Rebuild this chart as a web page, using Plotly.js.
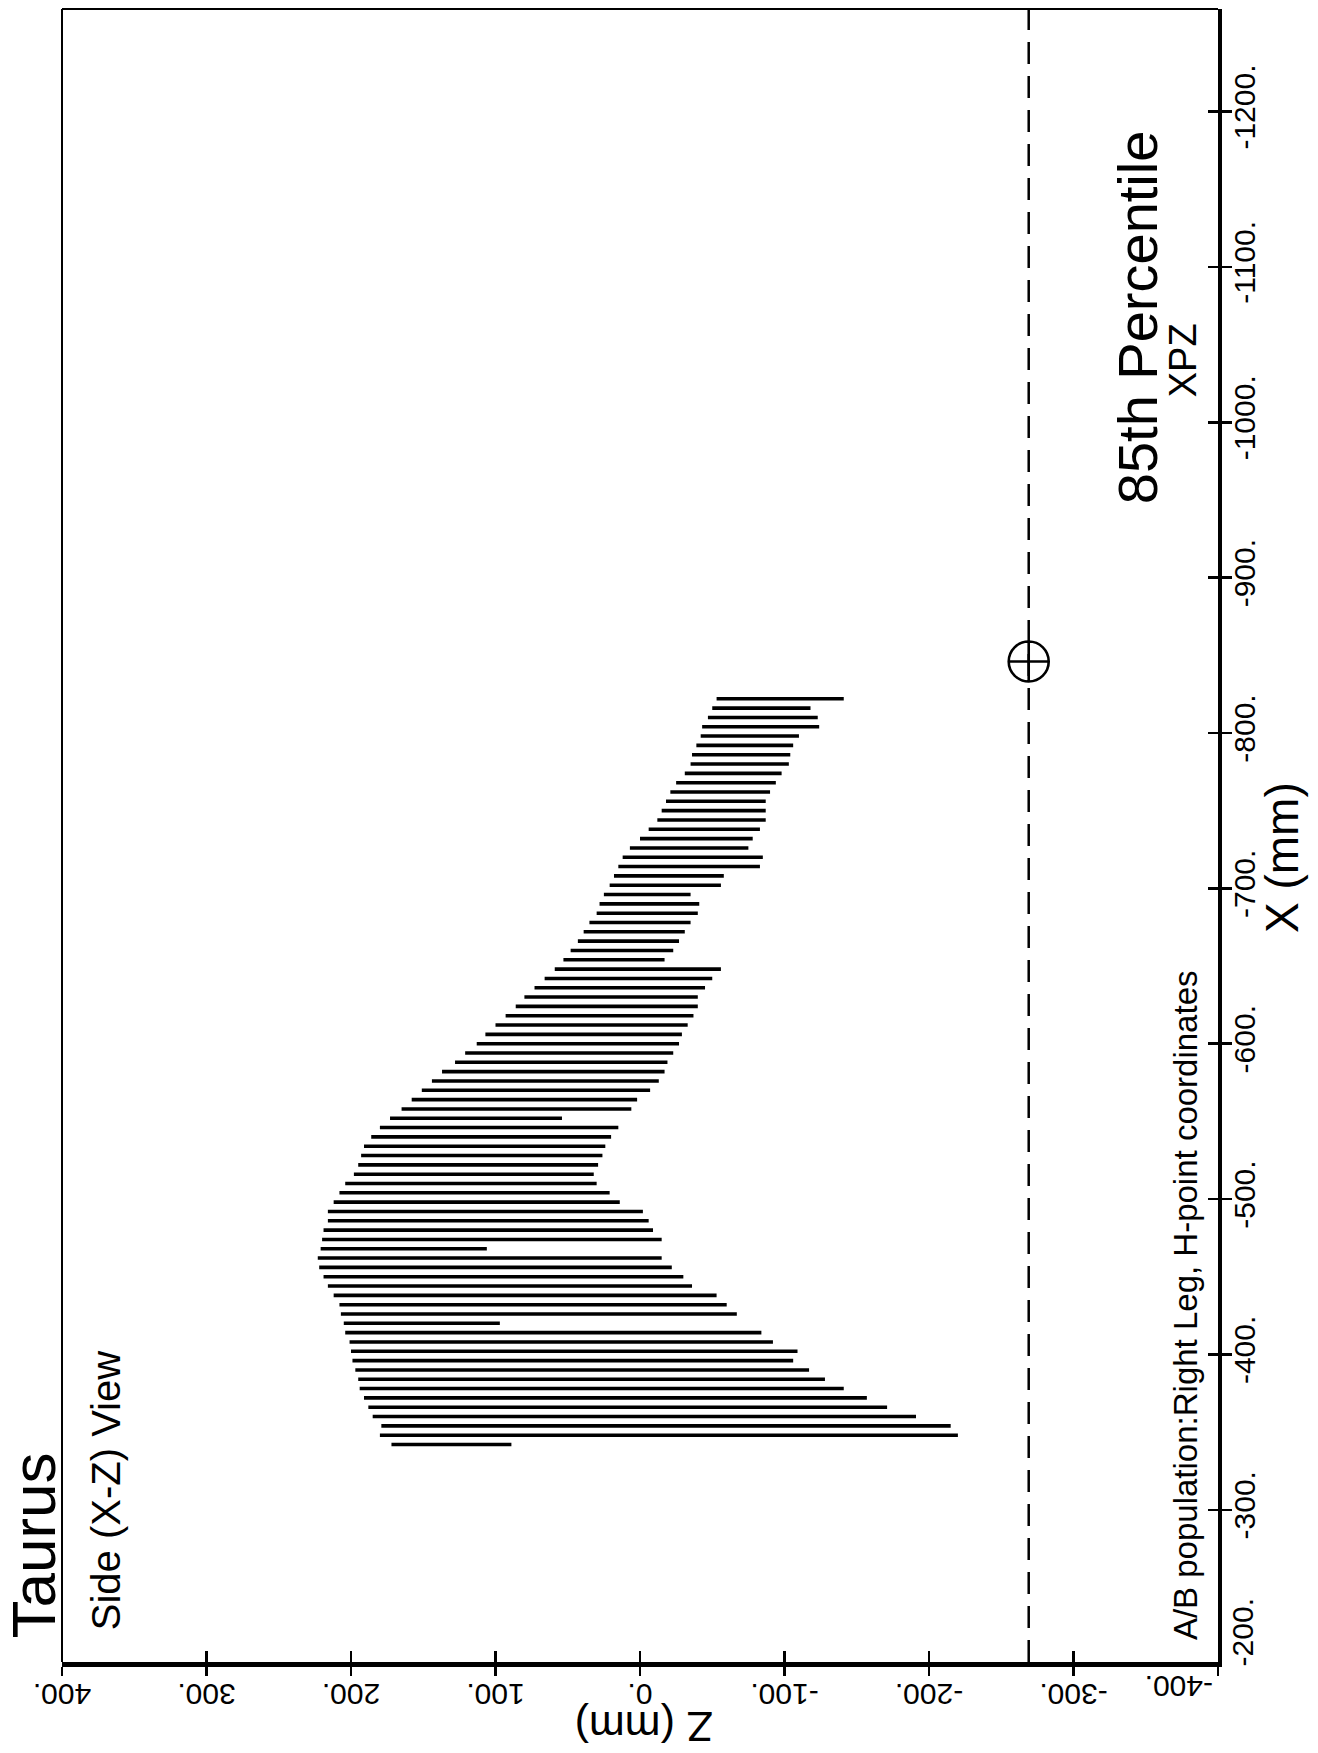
<!DOCTYPE html>
<html><head><meta charset="utf-8">
<script src="https://cdn.plot.ly/plotly-3.0.1.min.js"></script>
<style>html,body{margin:0;padding:0;background:#fff;} #chart{width:1318px;height:1753px;}</style>
</head><body><div id="chart"></div>
<script>
// X position (mm) of each swept segment
const xPositions = [-822,-816,-810,-804,-798,-792,-786,-780,-774,-768,-762,-756,-750,-744,-738,-732,-726,-720,-714,-708,
  -702,-696,-690,-684,-678,-672,-666,-660,-654,-648,-642,-636,-630,-624,-618,-612,-606,-600,-594,-588,
  -582,-576,-570,-564,-558,-552,-546,-540,-534,-528,-522,-516,-510,-504,-498,-492,-486,-480,-474,-468,
  -462,-456,-450,-444,-438,-432,-426,-420,-414,-408,-402,-396,-390,-384,-378,-372,-366,-360,-354,-348,-342];
// upper Z end of each segment (mm)
const zUpper = [-53,-50,-47,-43,-42,-39,-36,-35,-31,-25,-21,-18,-15,-12,-6,0,7,12,15,18,
  21,25,28,30,35,39,43,48,53,59,66,73,80,86,93,100,107,113,121,128,
  137,144,151,158,165,173,180,186,191,193,195,198,204,208,212,216,216,219,220,221,
  223,222,219,216,212,208,207,205,204,201,200,199,197,195,194,191,188,185,179,180,172];
// lower Z end of each segment (mm)
const zLower = [-141,-118,-123,-124,-110,-106,-104,-103,-98,-94,-90,-87,-87,-87,-83,-78,-75,-85,-83,-58,
  -56,-35,-41,-40,-35,-31,-27,-23,-17,-56,-50,-45,-40,-40,-37,-33,-29,-27,-23,-19,
  -17,-13,-7,2,6,54,15,20,24,26,29,32,30,21,14,-2,-6,-9,-15,106,
  -15,-22,-30,-36,-53,-60,-67,97,-84,-92,-109,-106,-117,-128,-141,-157,-171,-191,-215,-220,89];

const zTickVals = [400,300,200,100,0,-100,-200,-300,-400];
const zTickText = ['400.','300.','200.','100.','0.','-100.','-200.','-300.',''];
const xTickVals = [-200,-300,-400,-500,-600,-700,-800,-900,-1000,-1100,-1200];
const xTickText = ['','-300.','-400.','-500.','-600.','-700.','-800.','-900.','-1000.','-1100.','-1200.'];
const hPointZ = [-269];
const hPointX = [-846];

const FONT = 'Liberation Sans, Arial, Helvetica, sans-serif';

const segZ = [], segX = [];
for (let i = 0; i < xPositions.length; i++) {
  segZ.push(zUpper[i], zLower[i], null);
  segX.push(xPositions[i], xPositions[i], null);
}

const traces = [
  {type:'scatter', mode:'lines', x:segZ, y:segX, line:{color:'#000', width:3.6}, connectgaps:false, hoverinfo:'skip'},
  {type:'scatter', mode:'markers', x:hPointZ, y:hPointX,
   marker:{symbol:'circle-cross-open', size:40, color:'#000', line:{color:'#000', width:2.6}}, hoverinfo:'skip'},
  {type:'scatter', mode:'lines', x:[], y:[], xaxis:'x2', yaxis:'y2', hoverinfo:'skip'}
];

const tf = {family:FONT, size:30, color:'#000'};

const layout = {
  width:1318, height:1753,
  margin:{l:62, r:100, t:9, b:91, pad:0},
  paper_bgcolor:'#fff', plot_bgcolor:'#fff',
  showlegend:false,
  xaxis:{range:[400,-400], tickvals:zTickVals, ticktext:zTickText, tickangle:180,
    ticks:'outside', ticklen:9, tickwidth:2.5, tickcolor:'#000', tickfont:tf,
    showline:true, linewidth:4.5, linecolor:'#000', showgrid:false, zeroline:false, mirror:false,
    ticklabelstandoff:2},
  xaxis2:{range:[400,-400], overlaying:'x', anchor:'y', side:'bottom', tickvals:zTickVals,
    ticks:'inside', ticklen:11, tickwidth:2.5, tickcolor:'#000', showticklabels:false,
    showline:false, showgrid:false, zeroline:false},
  yaxis:{range:[-202,-1266], side:'right', tickvals:xTickVals, ticktext:xTickText, tickangle:-90,
    ticks:'outside', ticklen:10, tickwidth:2.5, tickcolor:'#000', tickfont:tf,
    showline:true, linewidth:3.6, linecolor:'#000', showgrid:false, zeroline:false, mirror:false,
    ticklabelstandoff:-13},
  yaxis2:{range:[-202,-1266], overlaying:'y', anchor:'x', side:'right', tickvals:xTickVals,
    ticks:'inside', ticklen:10, tickwidth:2.5, tickcolor:'#000', showticklabels:false,
    showline:false, showgrid:false, zeroline:false},
  shapes:[
    {type:'line', xref:'paper', yref:'paper', x0:0, x1:0, y0:0, y1:1, line:{color:'#000', width:2}},
    {type:'line', xref:'paper', yref:'paper', x0:0, x1:1, y0:1, y1:1, line:{color:'#000', width:2}},
    {type:'line', xref:'x', yref:'paper', x0:hPointZ[0], x1:hPointZ[0], y0:0, y1:1,
     line:{color:'#000', width:2.5, dash:'22px,12px'}}
  ],
  annotations:[
    {text:'Taurus', xref:'paper', yref:'paper', x:-0.0255, y:0.0127, xanchor:'center', yanchor:'bottom',
     textangle:-90, showarrow:false, font:{family:FONT, size:62, color:'#000'}},
    {text:'Side (X-Z) View', xref:'paper', yref:'paper', x:0.0376, y:0.018, xanchor:'center', yanchor:'bottom',
     textangle:-90, showarrow:false, font:{family:FONT, size:40, color:'#000'}},
    {text:'A/B population:Right Leg, H-point coordinates', xref:'paper', yref:'paper', x:0.9724, y:0.0121,
     xanchor:'center', yanchor:'bottom', textangle:-90, showarrow:false, font:{family:FONT, size:33, color:'#000'}},
    {text:'85th Percentile', xref:'paper', yref:'paper', x:0.931, y:0.8137, xanchor:'center', yanchor:'middle',
     textangle:-90, showarrow:false, font:{family:FONT, size:56, color:'#000'}},
    {text:'XPZ', xref:'paper', yref:'paper', x:0.970, y:0.7877, xanchor:'center', yanchor:'middle',
     textangle:-90, showarrow:false, font:{family:FONT, size:38, color:'#000'}},
    {text:'X (mm)', xref:'paper', yref:'paper', x:1.0554, y:0.4864, xanchor:'center', yanchor:'middle',
     textangle:-90, showarrow:false, font:{family:FONT, size:46, color:'#000'}},
    {text:'Z (mm)', xref:'paper', yref:'paper', x:0.5035, y:-0.0393, xanchor:'center', yanchor:'middle',
     textangle:180, showarrow:false, font:{family:FONT, size:43, color:'#000'}},
    {text:'-200.', xref:'paper', yref:'paper', x:1.021, y:-0.0037, xanchor:'center', yanchor:'bottom',
     textangle:-90, showarrow:false, font:tf},
    {text:'-400.', xref:'paper', yref:'paper', x:0.9974, y:-0.0145, xanchor:'right', yanchor:'middle',
     textangle:180, showarrow:false, font:tf}
  ]
};

Plotly.newPlot('chart', traces, layout, {displayModeBar:false, staticPlot:true});
</script>
</body></html>
